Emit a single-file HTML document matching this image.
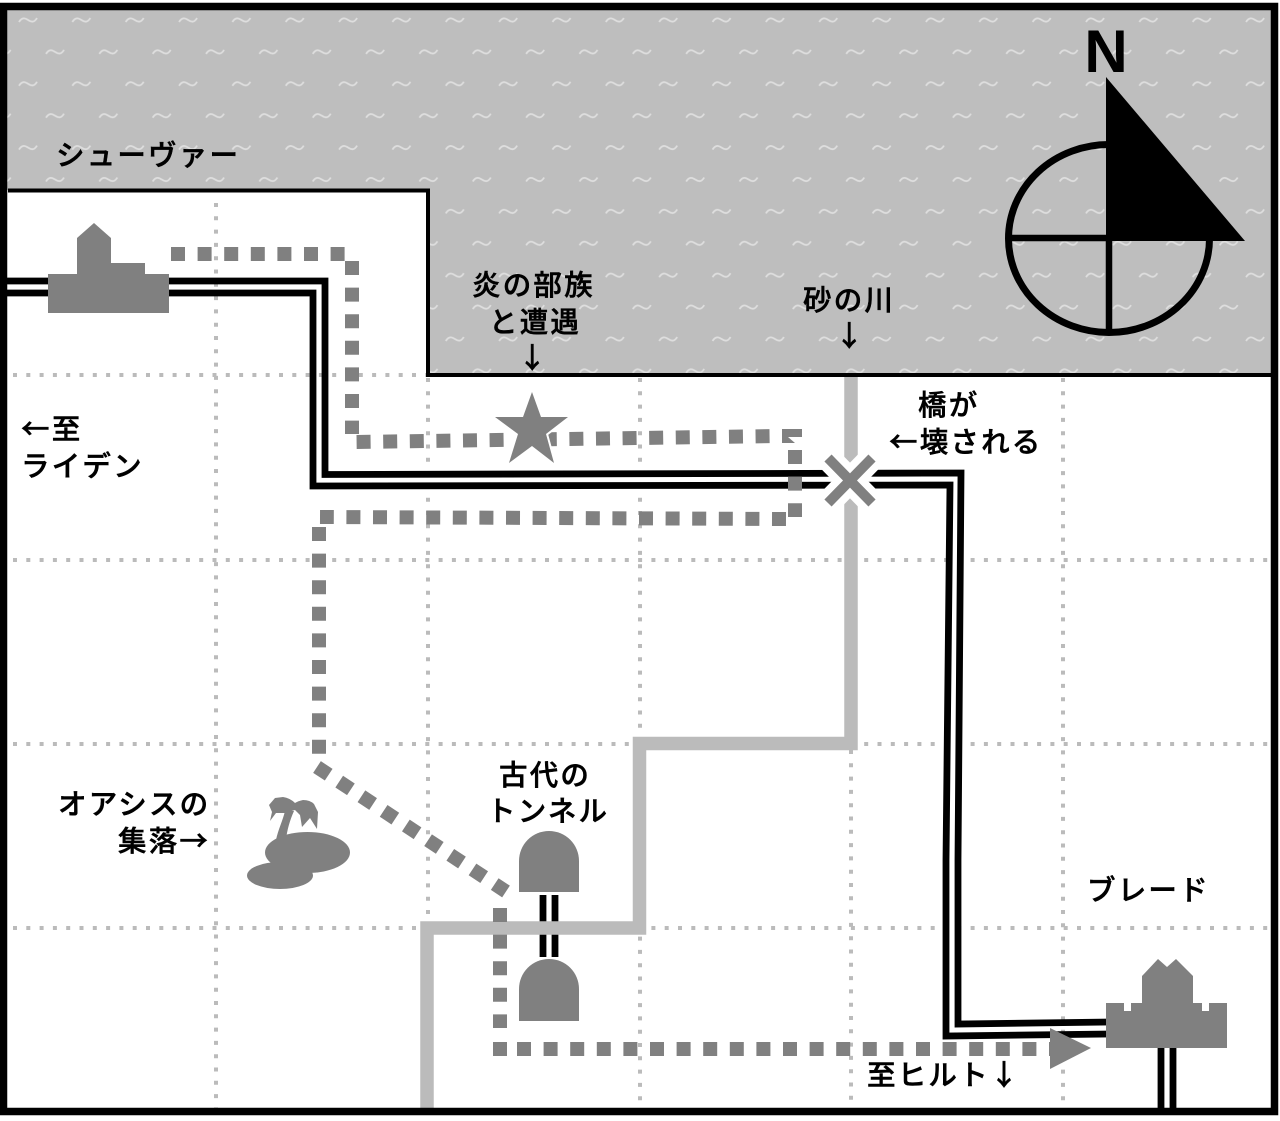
<!DOCTYPE html>
<html lang="ja"><head><meta charset="utf-8"><title>Map</title>
<style>
html,body{margin:0;padding:0;background:#fff}
svg{display:block}
text{font-family:"Noto Sans CJK JP","Liberation Sans",sans-serif;font-size:28.5px;font-weight:500;letter-spacing:2.200px;fill:#000;stroke:#000;stroke-width:.5px}
</style></head><body>
<svg xmlns="http://www.w3.org/2000/svg" width="1280" height="1121" viewBox="0 0 1280 1121">
<defs>
<pattern id="w" patternUnits="userSpaceOnUse" x="1" y="4" width="53.35" height="63.8">
<g fill="none" stroke="#dedede" stroke-width="1.800">
<path transform="translate(27 16)" d="M-9 2C-6-3-3-2 0 0S6 3 9-2"/>
<path transform="translate(0.65 47.9)" d="M-9 2C-6-3-3-2 0 0S6 3 9-2"/>
<path transform="translate(54 47.9)" d="M-9 2C-6-3-3-2 0 0S6 3 9-2"/>
</g>
</pattern>
</defs>
<rect width="1280" height="1121" fill="#fff"/>
<path d="M4 6H1274V375H428V190H4Z" fill="#bebebe"/>
<path d="M4 6H1274V375H428V190H4Z" fill="url(#w)"/>

<g fill="none" stroke="#bbb" stroke-width="4" stroke-dasharray="4 9.3">
<path d="M216 203V1108"/><path d="M428 378V1108"/><path d="M640 378V1108"/><path d="M851 750V1108"/><path d="M1063 378V1108"/>
<path d="M13 375H1270"/><path d="M13 560H1270"/><path d="M13 744H1270"/><path d="M13 928H1270"/>
</g>

<path d="M8 190.500H428V375H1272" fill="none" stroke="#000" stroke-width="4"/>

<!-- roads -->
<g fill="none" stroke="#000" stroke-width="6.800">
<path d="M0 281H325V474.500L961 473L958 860L958 1024L1110 1022"/>
<path d="M0 293H313V486L950 485L946 860V1036L1110 1034"/>
<path d="M1161 1045V1110"/><path d="M1173 1045V1110"/>
<path d="M543 895V957"/><path d="M555 895V957"/>
</g>

<!-- river -->
<path d="M851 377V743.500H639.500V928H427V1110" fill="none" stroke="#bbb" stroke-width="13.500"/>

<!-- dotted route -->
<g fill="none" stroke="#808080" stroke-width="14" stroke-dasharray="14 12.6">
<path d="M171 254H345"/>
<path d="M352 261V434"/>
<path d="M356.600 442L780 436"/>
<path d="M795 450V517"/>
<path d="M786 519L320 517"/>
<path d="M319 527V754"/>
<path d="M317 767L506 891.500"/>
<path d="M500 908V1028"/>
<path d="M517 1049H1050"/>
</g>
<g fill="#808080">
<path d="M782 429H802V437H788L795 443H782Z"/>
<rect x="493" y="1042" width="14" height="14"/>
<path d="M1050 1028L1091 1048L1050 1069Z"/>
</g>

<!-- star -->
<path d="M532 392L541 417H568L546 434L554 463L532 446L509 463L518 434L495 417H523Z" fill="#808080" stroke="#fff" stroke-width="4" paint-order="stroke"/>

<!-- broken bridge -->
<g fill="none">
<path d="M826 456L874 505M874 456L826 505" stroke="#fff" stroke-width="25"/>
<path d="M828 458L872 503M872 458L828 503" stroke="#808080" stroke-width="10"/>
</g>

<!-- towns and tunnels -->
<g fill="#808080">
<path d="M48 313V274H77V238L94 223L111 238V263H145V274H169V313Z"/>
<path d="M1106 1048V1003H1124V1011H1131V1003H1142V976L1158 959L1167 967L1176 959L1193 976V1003H1202V1011H1209V1003H1227V1048Z"/>
<path d="M519 892V861A30 30 0 0 1 579 861V892Z"/>
<path d="M519 1021V989A30 30 0 0 1 579 989V1021Z"/>
<ellipse cx="307.500" cy="852.500" rx="42.500" ry="20.500"/>
<ellipse cx="280" cy="875.500" rx="33" ry="13.500"/>
<path d="M276 840C278 830 283 820 285 811L294 811C290 820 287 830 286 840Z"/>
<path d="M269 805L275 798L283 797Q290 798 295 803Q298 801 303 800Q310 800 314 804L318 812L317 829L310 818L302 827L300 815L295 810L285 813L276 813L270 821L272 812Z"/>
</g>

<!-- outer frame -->
<rect x="3.500" y="6.500" width="1271" height="1105" fill="none" stroke="#000" stroke-width="7.500"/>

<!-- compass -->
<ellipse cx="1109" cy="238.500" rx="100.500" ry="94" fill="none" stroke="#000" stroke-width="7"/>
<path d="M1106 77L1245 241H1106Z" fill="#000"/>
<path d="M1008 238H1112M1109 238V334" stroke="#000" stroke-width="6.500" fill="none"/>
<text x="1106" y="72" text-anchor="middle" style="font-family:'Liberation Sans',sans-serif;font-size:60px;font-weight:700;letter-spacing:0;stroke:none">N</text>

<!-- labels -->
<text x="56" y="165">シューヴァー</text>
<text x="472" y="295">炎の部族</text>
<text x="489" y="332">と遭遇</text>
<text x="518" y="368">↓</text>
<text x="803" y="310">砂の川</text>
<text x="835" y="346">↓</text>
<text x="918" y="415">橋が</text>
<text x="889" y="452">←壊される</text>
<text x="21" y="439">←至</text>
<text x="21" y="476">ライデン</text>
<text x="58" y="814">オアシスの</text>
<text x="118" y="851">集落→</text>
<text x="499" y="785">古代の</text>
<text x="487" y="821">トンネル</text>
<text x="1087" y="900">ブレード</text>
<text x="867" y="1085">至ヒルト↓</text>
</svg>
</body></html>
